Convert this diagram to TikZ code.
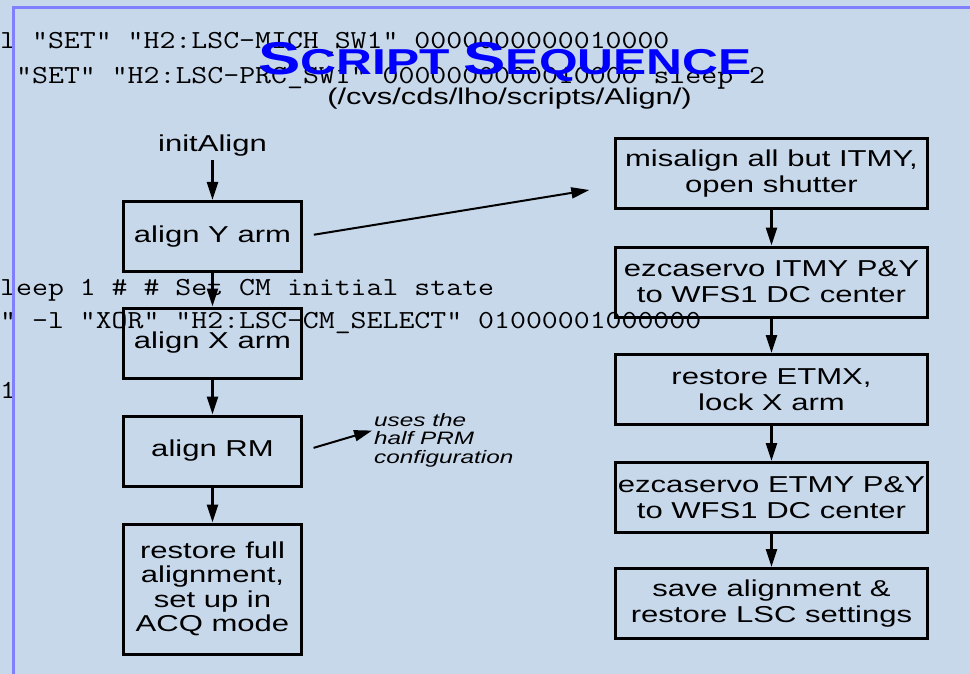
\documentclass[tikz,border=0pt]{standalone}
\usepackage{fontspec}
\setmainfont{Liberation Sans}[FakeStretch=1.35]
\newfontfamily\titlefont{Liberation Sans}[FakeStretch=1.38]
\usepackage{tikz}
\usetikzlibrary{arrows.meta, positioning}

\definecolor{slidebg}{RGB}{200,216,235}
\definecolor{framebl}{RGB}{128,128,255}
\definecolor{titlebl}{RGB}{0,0,255}

% typewriter lines, widened a little
\newcommand{\codetxt}[1]{\scalebox{1.19}[1]{\fontsize{26}{26}\selectfont\ttfamily #1}}
% fake small caps for the heading
\newcommand{\capsz}[2]{{\fontsize{46}{46}\selectfont #1}{\fontsize{36}{36}\selectfont #2}}

\tikzset{
  stepbox/.style={draw, line width=3pt, minimum width=178pt, minimum height=70pt,
    inner sep=0pt, align=center, font=\fontsize{23}{26}\selectfont},
  widebox/.style={stepbox, minimum width=312pt},
  arr/.style={line width=2.5pt, -{Triangle[length=18pt, width=11pt]}},
  codeline/.style={anchor=base west, inner sep=0pt},
}

\begin{document}
\begin{tikzpicture}[x=1pt, y=-1pt]
  % ---------- SLIDE ----------
  \fill[slidebg] (0,0) rectangle (970,674);
  \useasboundingbox (0,0) rectangle (970,674);
  % ---------- LEFTOVER SCRIPT TEXT ----------
  \node[codeline] (code1) at (0,49) {\codetxt{l "SET" "H2:LSC-MICH\_SW1" 0000000000010000}};
  \node[codeline] (code2) at (16,84) {\codetxt{"SET" "H2:LSC-PRC\_SW1" 0000000000010000 sleep 2}};
  \node[codeline] (code3) at (0,295) {\codetxt{leep 1 \# \# Set CM initial state}};
  \node[codeline] (code4) at (0,328) {\codetxt{" -l "XOR" "H2:LSC-CM\_SELECT" 01000001000000}};
  \node[codeline] (code5) at (0,398) {\codetxt{1}};
  \draw[framebl, line width=3pt] (13.5,674) -- (13.5,7.5) -- (970,7.5);
  % ---------- HEADING ----------
  \node[text=titlebl, anchor=base, inner sep=0pt,
    font=\titlefont\bfseries\fontsize{36}{36}\selectfont] (title) at (505,75)
    {\capsz{S}{CRIPT} \capsz{S}{EQUENCE}};
  \node[anchor=base, inner sep=0pt, font=\fontsize{22.8}{26}\selectfont] (path) at (509.5,105)
    {(/cvs/cds/lho/scripts/Align/)};
  % ---------- LEFT COLUMN ----------
  \node[anchor=base, font=\fontsize{23}{26}\selectfont] (init) at (212.5,151.5) {initAlign};
  \node[stepbox] (alignY) at (212.5,236.5) {align Y arm};
  \node[stepbox] (alignX) at (212.5,343) {align X arm};
  \node[stepbox] (alignRM) at (212.5,451) {align RM};
  \node[stepbox, minimum height=130pt, font=\fontsize{23}{24.5}\selectfont] (restore) at (212.5,589)
    {restore full\\alignment,\\set up in\\ACQ mode};
  \node[font=\itshape\fontsize{18}{18.5}\selectfont, align=left, anchor=west, inner sep=0pt]
    (prmnote) at (374,440) {uses the\\half PRM\\configuration};
  % ---------- RIGHT COLUMN ----------
  \node[widebox] (misalign) at (771.5,174) {misalign all but ITMY,\\open shutter};
  \node[widebox] (servoITMY) at (771.5,282) {ezcaservo ITMY P\&Y\\to WFS1 DC center};
  \node[widebox] (restoreX) at (771.5,389.5) {restore ETMX,\\lock X arm};
  \node[widebox] (servoETMY) at (771.5,497.5) {ezcaservo ETMY P\&Y\\to WFS1 DC center};
  \node[widebox] (saveLSC) at (771.5,603.5) {save alignment \&\\restore LSC settings};
  % ---------- ARROWS ----------
  \draw[arr] (init) -- (alignY);
  \foreach \a/\b in {alignY/alignX, alignX/alignRM, alignRM/restore}
    \draw[arr] (\a) -- (\b);
  \foreach \a/\b in {misalign/servoITMY, servoITMY/restoreX, restoreX/servoETMY, servoETMY/saveLSC}
    \draw[arr] (\a) -- (\b);
  \draw[arr, line width=2pt, shorten <=11pt, shorten >=25pt] (alignY.east) -- ([yshift=-12pt]misalign.west);
  \draw[arr, line width=2pt, shorten <=11pt, shorten >=2pt] (alignRM.east) -- ([yshift=10pt]prmnote.west);
\end{tikzpicture}
\end{document}
